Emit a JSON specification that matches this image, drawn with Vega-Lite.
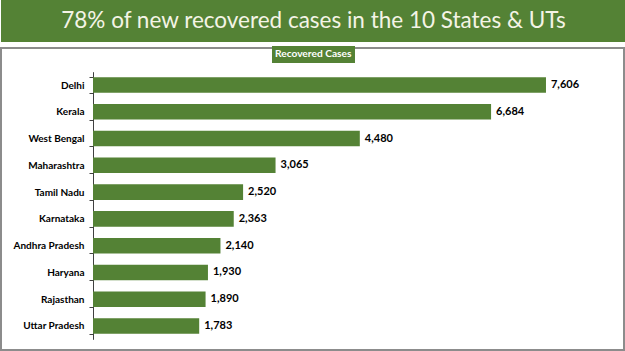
{
  "$schema": "https://vega.github.io/schema/vega-lite/v6.json",
  "background": "white",
  "padding": 0,
  "spacing": 0,
  "config": {"font": "Lato", "concat": {"spacing": 0}},
  "vconcat": [
    {
      "width": 625,
      "height": 42,
      "view": {"fill": "#548235", "stroke": null},
      "data": {"values": [{"headline": "78% of new recovered cases in the 10 States & UTs"}]},
      "mark": {"type": "text", "font": "Lato", "fontSize": 22.5, "color": "#f4f4e6", "baseline": "middle", "align": "center"},
      "encoding": {"text": {"field": "headline"}}
    },
    {
      "width": 623,
      "height": 302,
      "view": {"stroke": "#8c8c8c", "strokeWidth": 2},
      "data": {
        "values": [
          {"state": "Delhi", "recovered": 7606},
          {"state": "Kerala", "recovered": 6684},
          {"state": "West Bengal", "recovered": 4480},
          {"state": "Maharashtra", "recovered": 3065},
          {"state": "Tamil Nadu", "recovered": 2520},
          {"state": "Karnataka", "recovered": 2363},
          {"state": "Andhra Pradesh", "recovered": 2140},
          {"state": "Haryana", "recovered": 1930},
          {"state": "Rajasthan", "recovered": 1890},
          {"state": "Uttar Pradesh", "recovered": 1783}
        ]
      },
      "encoding": {
        "y": {
          "field": "state",
          "type": "nominal",
          "sort": null,
          "scale": {"range": [23.7, 291.3], "paddingInner": 0.42, "paddingOuter": 0.21},
          "axis": {
            "title": null,
            "orient": "left",
            "offset": -92,
            "tickBand": "extent",
            "tickSize": 4,
            "labelPadding": 5,
            "domainColor": "#404040",
            "tickColor": "#404040",
            "labelFont": "Lato",
            "labelFontSize": 10,
            "labelFontWeight": "bold",
            "labelColor": "#000000",
            "grid": false
          }
        }
      },
      "layer": [
        {
          "mark": {"type": "bar"},
          "encoding": {
            "x": {
              "field": "recovered",
              "type": "quantitative",
              "scale": {"domain": [-1545, 8916], "nice": false, "zero": false},
              "axis": null
            },
            "x2": {"datum": 0},
            "color": {
              "datum": "Recovered Cases",
              "scale": {"range": ["#548235"]},
              "legend": {
                "orient": "none",
                "legendX": 271,
                "legendY": 46,
                "title": null,
                "fillColor": "#548235",
                "padding": 3,
                "symbolSize": 1,
                "symbolOpacity": 0,
                "symbolStrokeWidth": 0,
                "labelOffset": -10.2,
                "labelColor": "white",
                "labelFont": "Lato",
                "labelFontSize": 10.2,
                "labelFontWeight": "bold"
              }
            }
          }
        },
        {
          "mark": {"type": "text", "align": "left", "baseline": "middle", "dx": 5, "font": "Lato", "fontWeight": "bold", "fontSize": 11, "color": "#000000"},
          "encoding": {
            "x": {"field": "recovered", "type": "quantitative"},
            "text": {"field": "recovered", "type": "quantitative", "format": ","}
          }
        }
      ]
    }
  ]
}
